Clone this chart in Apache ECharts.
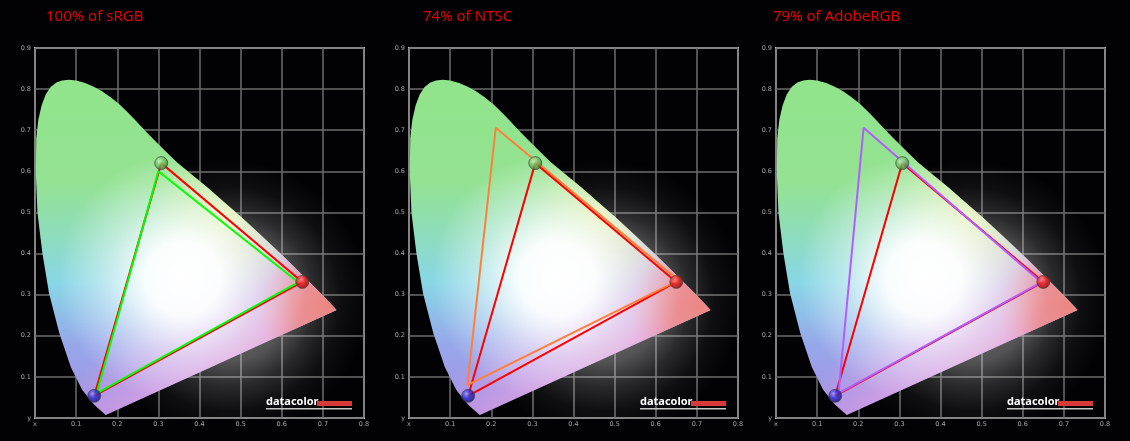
<!DOCTYPE html>
<html>
<head>
<meta charset="utf-8">
<script src="https://cdn.jsdelivr.net/npm/echarts@6/dist/echarts.min.js"></script>
<style>
html,body{margin:0;padding:0;background:#020204;}
#chart{width:1130px;height:441px;}
</style>
</head>
<body>
<div id="chart"></div>
<script>
// ---------- DATA ----------
const titles = ['100% of sRGB', '74% of NTSC', '79% of AdobeRGB'];
const xTickLabels = ['x', '0.1', '0.2', '0.3', '0.4', '0.5', '0.6', '0.7', '0.8'];
const yTickLabels = ['y', '0.1', '0.2', '0.3', '0.4', '0.5', '0.6', '0.7', '0.8', '0.9'];

// spectral locus outline as drawn (x, y chromaticity)
const locusX = [0.172, 0.144, 0.115, 0.087, 0.059, 0.034, 0.018, 0.006, 0.002, 0.003, 0.008, 0.016, 0.026, 0.038, 0.052, 0.066, 0.082, 0.100, 0.122, 0.143, 0.163, 0.183, 0.203, 0.224, 0.244, 0.265, 0.285, 0.315, 0.345, 0.380, 0.420, 0.460, 0.500, 0.550, 0.600, 0.650, 0.700, 0.733];
const locusY = [0.007, 0.032, 0.068, 0.124, 0.207, 0.304, 0.401, 0.499, 0.596, 0.680, 0.725, 0.760, 0.787, 0.805, 0.816, 0.821, 0.823, 0.821, 0.815, 0.806, 0.795, 0.781, 0.765, 0.745, 0.724, 0.702, 0.681, 0.651, 0.622, 0.593, 0.560, 0.525, 0.490, 0.444, 0.397, 0.348, 0.298, 0.263];

// measured display primaries (R, G, B)
const measuredX = [0.650, 0.307, 0.144];
const measuredY = [0.331, 0.620, 0.054];

// reference gamuts (R, G, B)
const srgbX = [0.640, 0.300, 0.150];
const srgbY = [0.330, 0.600, 0.060];
const ntscX = [0.655, 0.211, 0.142];
const ntscY = [0.335, 0.706, 0.080];
const adobeX = [0.645, 0.213, 0.152];
const adobeY = [0.330, 0.706, 0.060];

const refGamutsX = [srgbX, ntscX, adobeX];
const refGamutsY = [srgbY, ntscY, adobeY];
const refColors = ['#00ff00', '#ff7f3a', '#b45cff'];

// ---------- LAYOUT ----------
const gridLefts = [35, 409, 776];
const titleLefts = [46, 423, 773];
const gridTop = 48, gridW = 329, gridH = 370;

function tri(xs, ys) {
  const d = xs.map((x, i) => [x, ys[i]]);
  d.push([xs[0], ys[0]]);
  return d;
}
function stops(arr) { return arr.map(a => ({ offset: a[0], color: a[1] })); }
function lin(p1, p2, s) { return { type: 'linear', x: p1[0], y: p1[1], x2: p2[0], y2: p2[1], global: true, colorStops: stops(s) }; }
function rad(p, r, s) { return { type: 'radial', x: p[0], y: p[1], r: r, global: true, colorStops: stops(s) }; }

function renderGlow(params, api) {
  const c = api.coord([0.47, 0.29]);
  return {
    type: 'circle', silent: true,
    shape: { cx: c[0], cy: c[1], r: 140 },
    style: { fill: rad(c, 140, [[0, 'rgba(255,255,255,0.5)'], [0.45, 'rgba(255,255,255,0.32)'], [0.62, 'rgba(255,255,255,0.16)'], [0.8, 'rgba(255,255,255,0.05)'], [1, 'rgba(255,255,255,0)']]) }
  };
}

function renderLocus(params, api) {
  const pts = locusX.map((x, i) => api.coord([x, locusY[i]]));
  const c = (x, y) => api.coord([x, y]);
  const poly = fill => ({ type: 'polygon', silent: true, shape: { points: pts }, style: { fill: fill } });
  return {
    type: 'group',
    children: [
      poly(lin(c(0, 0.82), c(0, 0.0), [[0, '#90e48a'], [0.3, '#94e292'], [0.47, '#8edcc0'], [0.6, '#88d6e6'], [0.78, '#96a8ea'], [1, '#aa8ce2']])),
      poly(lin(c(0.3, 0.32), c(0.6, 0.06), [[0, 'rgba(238,165,228,0)'], [0.35, 'rgba(238,165,228,0.5)'], [0.7, 'rgba(236,160,215,0.85)'], [1, 'rgba(236,150,190,1)']])),
      poly(rad(c(0.71, 0.27), 70, [[0, 'rgba(236,135,130,1)'], [0.5, 'rgba(236,140,135,0.75)'], [1, 'rgba(236,150,150,0)']])),
      poly(rad(c(0.47, 0.49), 80, [[0, 'rgba(240,240,160,0.8)'], [1, 'rgba(240,240,160,0)']])),
      poly(rad(c(0.36, 0.34), 125, [[0, 'rgba(255,255,255,1)'], [0.3, 'rgba(255,255,255,0.95)'], [0.62, 'rgba(255,255,255,0.45)'], [1, 'rgba(255,255,255,0)']]))
    ]
  };
}

function ball(base, light, dark) {
  return {
    color: { type: 'radial', x: 0.38, y: 0.35, r: 0.7, colorStops: stops([[0, light], [0.45, base], [1, dark]]) },
    borderColor: 'rgba(70,70,70,0.9)', borderWidth: 1
  };
}

const grids = [], xAxes = [], yAxes = [], series = [], titleList = [], graphics = [];
for (let i = 0; i < 3; i++) {
  grids.push({ left: gridLefts[i], top: gridTop, width: gridW, height: gridH, show: true, borderColor: '#c8c8c8', borderWidth: 2, backgroundColor: 'transparent' });
  xAxes.push({
    type: 'value', gridIndex: i, min: 0, max: 0.8, interval: 0.1,
    axisLine: { show: false }, axisTick: { show: false },
    splitLine: { show: true, lineStyle: { color: '#6c6c6c', width: 1.5 } },
    axisLabel: { color: '#a8a8a8', fontSize: 6.5, fontFamily: 'DejaVu Sans', margin: 3, formatter: v => xTickLabels[Math.round(v * 10)] }
  });
  yAxes.push({
    type: 'value', gridIndex: i, min: 0, max: 0.9, interval: 0.1,
    axisLine: { show: false }, axisTick: { show: false },
    splitLine: { show: true, lineStyle: { color: '#6c6c6c', width: 1.5 } },
    axisLabel: { color: '#a8a8a8', fontSize: 6.5, fontFamily: 'DejaVu Sans', margin: 4, formatter: v => yTickLabels[Math.round(v * 10)] }
  });
  series.push({ type: 'custom', xAxisIndex: i, yAxisIndex: i, renderItem: renderGlow, data: [[0, 0]], z: 1, clip: true, silent: true });
  series.push({ type: 'custom', xAxisIndex: i, yAxisIndex: i, renderItem: renderLocus, data: [[0, 0]], z: 2, silent: true });
  series.push({ type: 'line', xAxisIndex: i, yAxisIndex: i, data: tri(measuredX, measuredY), symbol: 'none', z: 3, lineStyle: { color: '#ff0000', width: 2 }, silent: true });
  series.push({ type: 'line', xAxisIndex: i, yAxisIndex: i, data: tri(refGamutsX[i], refGamutsY[i]), symbol: 'none', z: 4, lineStyle: { color: refColors[i], width: 2 }, silent: true });
  series.push({
    type: 'scatter', xAxisIndex: i, yAxisIndex: i, symbol: 'circle', symbolSize: 13, z: 5, silent: true,
    data: [
      { value: [measuredX[0], measuredY[0]], itemStyle: ball('#e01818', '#ff9a9a', '#7a0000') },
      { value: [measuredX[1], measuredY[1]], itemStyle: ball('#6cc460', '#c8f0c0', '#2f6a2a') },
      { value: [measuredX[2], measuredY[2]], itemStyle: ball('#2a2ad0', '#9a9aff', '#0a0a60') }
    ]
  });
  titleList.push({ text: titles[i], left: titleLefts[i], top: 9, padding: 0, textStyle: { color: '#e80000', fontSize: 15, fontWeight: 'normal', fontFamily: 'Noto Sans' } });
  const lx = gridLefts[i] + 231;
  graphics.push({ type: 'text', left: lx, top: 396, style: { text: 'datacolor', fill: '#ffffff', font: 'bold 11px "Noto Sans"' }, z: 10 });
  graphics.push({ type: 'rect', shape: { x: lx + 51, y: 401, width: 35, height: 5 }, style: { fill: '#d83a3a' }, z: 10 });
  graphics.push({ type: 'rect', shape: { x: lx, y: 408, width: 86, height: 1.5 }, style: { fill: '#c8c8c8' }, z: 10 });
}

const chart = echarts.init(document.getElementById('chart'), null, { renderer: 'canvas' });
chart.setOption({
  backgroundColor: '#020204',
  animation: false,
  title: titleList,
  grid: grids,
  xAxis: xAxes,
  yAxis: yAxes,
  series: series,
  graphic: graphics
});
</script>
</body>
</html>
